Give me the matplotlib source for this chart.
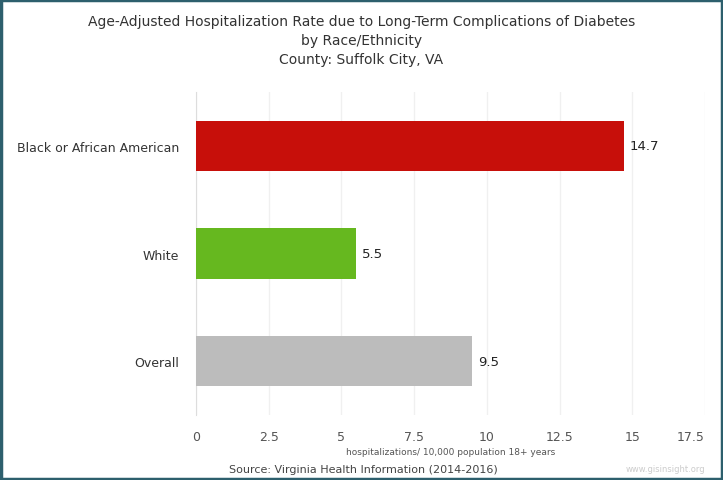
import matplotlib.pyplot as plt
from matplotlib.patches import Rectangle

categories = ['Black or African American', 'White', 'Overall']
values = [14.7, 5.5, 9.5]
colors = ['#c70f0a', '#66b81f', '#bcbcbc']
ticks = [0, 2.5, 5, 7.5, 10, 12.5, 15, 17.5]
tick_labels = ['0', '2.5', '5', '7.5', '10', '12.5', '15', '17.5']

plt.rcParams['font.family'] = ['DejaVu Sans']

fig = plt.figure(figsize=(7.23, 4.81), dpi=100)
ax = fig.add_axes([196 / 723, 1 - 416 / 481, (705 - 196) / 723, (416 - 93) / 481])

y = list(range(len(categories)))
ax.barh(y, values, height=0.47, color=colors, zorder=3)
for yi, v in zip(y, values):
    ax.text(v + 0.2, yi, f'{v}', va='center', ha='left', fontsize=9.5, color='#222222')

ax.set_ylim(len(categories) - 0.5, -0.5)
ax.set_xlim(0, 17.5)
ax.set_yticks(y)
ax.set_yticklabels(categories, fontsize=9, color='#333333')
ax.set_xticks(ticks)
ax.set_xticklabels(tick_labels, fontsize=9, color='#555555')
# last tick label sits inside the frame, as in the original
ax.get_xticklabels()[-1].set_horizontalalignment('right')
ax.tick_params(axis='y', length=0, pad=12)
ax.tick_params(axis='x', length=0, pad=11)
ax.grid(axis='x', color='#f0f0f0', linewidth=1, zorder=0)
for s in ['top', 'right', 'bottom']:
    ax.spines[s].set_visible(False)
ax.spines['left'].set_color('#dddddd')

ax.set_xlabel('hospitalizations/ 10,000 population 18+ years', fontsize=6.5, color='#555555', labelpad=3)

fig.text(0.5, 1 - 22 / 481, 'Age-Adjusted Hospitalization Rate due to Long-Term Complications of Diabetes',
         ha='center', va='center', fontsize=10, color='#333333')
fig.text(0.5, 1 - 41 / 481, 'by Race/Ethnicity', ha='center', va='center', fontsize=10, color='#333333')
fig.text(0.5, 1 - 60 / 481, 'County: Suffolk City, VA', ha='center', va='center', fontsize=10, color='#333333')

fig.text(229 / 723, 1 - 470 / 481, 'Source: Virginia Health Information (2014-2016)',
         ha='left', va='center', fontsize=8, color='#444444')
fig.text(705 / 723, 1 - 470 / 481, 'www.gisinsight.org', ha='right', va='center', fontsize=6, color='#cccccc')

fig.patches.append(Rectangle((0.002, 0.003), 0.996, 0.994, transform=fig.transFigure,
                             fill=False, edgecolor='#2d5f6d', linewidth=2.5))

fig.savefig('out.png', dpi=100)
